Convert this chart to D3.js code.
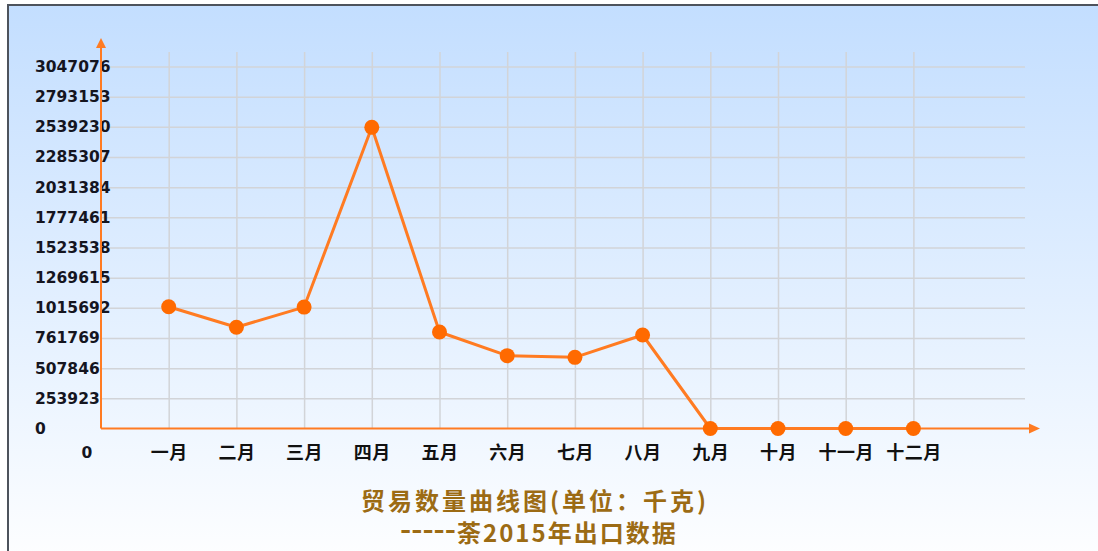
<!DOCTYPE html>
<html>
<head>
<meta charset="utf-8">
<script src="https://cdn.jsdelivr.net/npm/d3@7"></script>
<style>
  html, body { margin: 0; padding: 0; background: #fff; }
  svg { display: block; }
</style>
</head>
<body>
<div id="chart"></div>
<script>
// months on the x axis
const months = ["一月", "二月", "三月", "四月", "五月", "六月", "七月", "八月", "九月", "十月", "十一月", "十二月"];
// export weight per month (kg x1000)
const values = [1025000, 852000, 1022000, 2535000, 812000, 613000, 599000, 787000, 0, 0, 0, 0];
// y tick labels as printed
const yTicks = [0, 253923, 507846, 761769, 1015692, 1269615, 1523538, 1777461, 2031384, 2285307, 2539230, 2793153, 3047076];
const title = "贸易数量曲线图(单位：千克)";
const subDash = "-----";
const subTitle = "荼2015年出口数据";

const W = 1098, H = 551;
const orange = "#ff7b22";
const x0 = 101, y0 = 428.5;

const svg = d3.select("#chart").append("svg")
  .attr("width", W).attr("height", H);

// background gradient
const grad = svg.append("defs").append("linearGradient")
  .attr("id", "bg").attr("x1", 0).attr("y1", 0).attr("x2", 0).attr("y2", 1);
grad.append("stop").attr("offset", "0%").attr("stop-color", "#c3deff");
grad.append("stop").attr("offset", "100%").attr("stop-color", "#ffffff");

svg.append("rect")
  .attr("x", 8).attr("y", 5).attr("width", W + 20).attr("height", H + 20)
  .attr("fill", "url(#bg)")
  .attr("stroke", "#4d535c").attr("stroke-width", 2);

// scales: index 0 is the origin, months are 1..12
const x = d3.scaleLinear().domain([0, 12]).range([x0, x0 + 12 * 67.7]);
const y = d3.scaleLinear().domain([0, d3.max(yTicks)]).range([y0, 66.5]);

// horizontal grid + y labels
const yAxis = svg.append("g")
  .attr("transform", `translate(${x0},0)`)
  .call(d3.axisLeft(y).tickValues(yTicks).tickFormat(d3.format("d"))
    .tickSize(-(1025 - x0)).tickPadding(0));
yAxis.select(".domain").remove();
yAxis.selectAll(".tick line")
  .attr("stroke", "#d2d4d8").attr("stroke-width", 1.5)
  .filter(d => d === 0).remove();
yAxis.selectAll(".tick text")
  .attr("x", 35 - x0)
  .attr("text-anchor", "start")
  .attr("fill", "#15151f")
  .style("font", "bold 15.5px 'DejaVu Sans', sans-serif");

// vertical grid + month labels
const xAxis = svg.append("g")
  .attr("transform", `translate(0,${y0})`)
  .call(d3.axisBottom(x).tickValues(d3.range(1, 13))
    .tickFormat(i => months[i - 1])
    .tickSize(-(y0 - 52)).tickPadding(0));
xAxis.select(".domain").remove();
xAxis.selectAll(".tick line").attr("stroke", "#d2d4d8").attr("stroke-width", 1.5);
xAxis.selectAll(".tick text")
  .attr("y", 30.5).attr("dy", null)
  .attr("fill", "#111111")
  .style("font", "bold 18px 'Noto Sans CJK SC', sans-serif")
  .style("letter-spacing", "0.5px");

// origin "0" under the axis
svg.append("text")
  .attr("x", x(0) - 14).attr("y", 458)
  .attr("text-anchor", "middle")
  .attr("fill", "#15151f")
  .style("font", "bold 15.5px 'DejaVu Sans', sans-serif")
  .text("0");

// orange axes with arrows
const axes = svg.append("g").attr("stroke", orange).attr("stroke-width", 2).attr("fill", "none");
axes.append("line").attr("x1", x0).attr("y1", y0).attr("x2", x0).attr("y2", 44);
axes.append("line").attr("x1", x0).attr("y1", y0).attr("x2", 1034).attr("y2", y0);
svg.append("path")
  .attr("d", `M${x0},38 L${x0 - 5},48 L${x0 + 5},48 Z`)
  .attr("fill", orange);
svg.append("path")
  .attr("d", `M1040,${y0} L1029,${y0 - 5} L1029,${y0 + 5} Z`)
  .attr("fill", orange);

// data line + markers
const line = d3.line()
  .x((d, i) => x(i + 1))
  .y(d => y(d));
svg.append("path")
  .datum(values)
  .attr("d", line)
  .attr("fill", "none")
  .attr("stroke", orange)
  .attr("stroke-width", 3)
  .attr("stroke-linejoin", "round");
svg.append("g").selectAll("circle")
  .data(values)
  .join("circle")
  .attr("cx", (d, i) => x(i + 1))
  .attr("cy", d => y(d))
  .attr("r", 7.5)
  .attr("fill", "#ff6a00");

// title
const titleColor = "#9c6b14";
svg.append("text")
  .attr("x", 535).attr("y", 509.5)
  .attr("text-anchor", "middle")
  .attr("fill", titleColor)
  .style("font", "bold 24px 'Noto Sans CJK SC', sans-serif")
  .style("letter-spacing", "3px")
  .text(title);
svg.append("text")
  .attr("x", 400).attr("y", 537.5)
  .attr("textLength", 56)
  .attr("lengthAdjust", "spacingAndGlyphs")
  .attr("fill", titleColor)
  .style("font", "bold 22px 'DejaVu Sans', sans-serif")
  .text(subDash);
svg.append("text")
  .attr("x", 457).attr("y", 541.5)
  .attr("fill", titleColor)
  .style("font", "bold 24px 'Noto Sans CJK SC', sans-serif")
  .style("letter-spacing", "2px")
  .text(subTitle);
</script>
</body>
</html>
